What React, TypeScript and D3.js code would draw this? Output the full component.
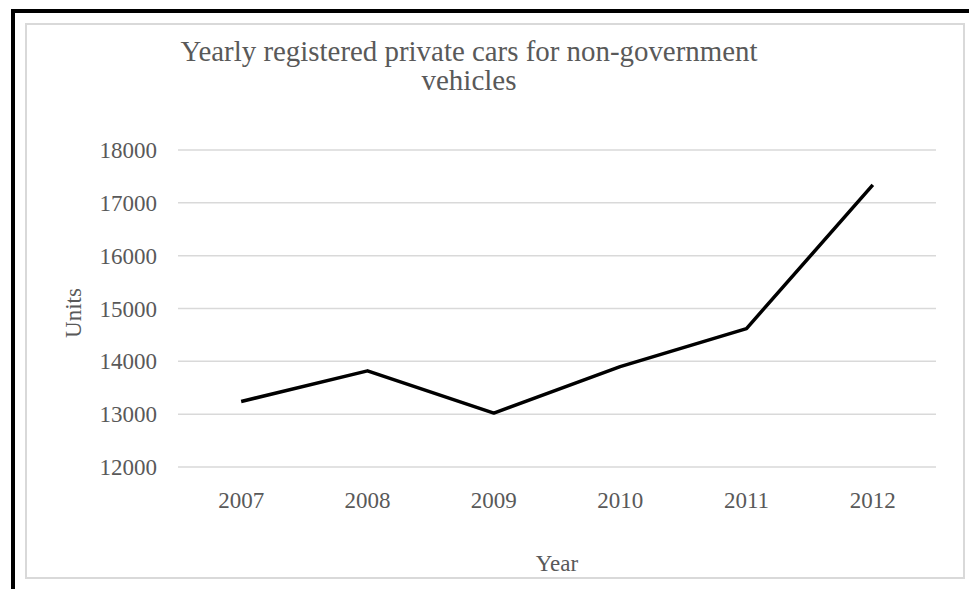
import React from "react";
import * as d3 from "d3";

const years = ["2007", "2008", "2009", "2010", "2011", "2012"];
const units = [13240, 13820, 13020, 13900, 14620, 17340];
const yTicks = [12000, 13000, 14000, 15000, 16000, 17000, 18000];

const W = 969;
const H = 589;
const plot = { left: 178, right: 936, top: 150, bottom: 467 };
const font = "'Liberation Serif', 'Times New Roman', serif";
const textColor = "#595959";

export default function App() {
  const x = d3
    .scaleBand<string>()
    .domain(years)
    .range([plot.left, plot.right]);
  const y = d3
    .scaleLinear()
    .domain([12000, 18000])
    .range([plot.bottom, plot.top]);
  const line = d3
    .line<number>()
    .x((_, i) => (x(years[i]) as number) + x.bandwidth() / 2)
    .y((d) => y(d));

  return (
    <svg
      width={W}
      height={H}
      style={{ position: "absolute", left: 0, top: 0, background: "#fff" }}
      fontFamily={font}
    >
      <rect x={0} y={0} width={W} height={H} fill="#fff" />
      {/* black frame */}
      <line x1={11} y1={11} x2={W} y2={11} stroke="#000" strokeWidth={4} />
      <line x1={13} y1={9} x2={13} y2={H} stroke="#000" strokeWidth={4} />
      {/* chart area border */}
      <rect x={26} y={24} width={938} height={554} fill="none" stroke="#d9d9d9" strokeWidth={2} />

      {/* title */}
      <text x={469} y={61} textAnchor="middle" fontSize={29} fill={textColor} textLength={577} lengthAdjust="spacingAndGlyphs">
        Yearly registered  private cars for non-government
      </text>
      <text x={469} y={90} textAnchor="middle" fontSize={29} fill={textColor}>
        vehicles
      </text>

      {/* gridlines & y ticks */}
      {yTicks.map((t) => (
        <g key={t}>
          <line x1={plot.left} x2={plot.right} y1={y(t)} y2={y(t)} stroke="#d9d9d9" strokeWidth={1.5} />
          <text x={157} y={y(t)} dy="0.35em" textAnchor="end" fontSize={23} fill={textColor}>
            {t}
          </text>
        </g>
      ))}

      {/* x labels */}
      {years.map((yr) => (
        <text
          key={yr}
          x={(x(yr) as number) + x.bandwidth() / 2}
          y={508}
          textAnchor="middle"
          fontSize={23}
          fill={textColor}
        >
          {yr}
        </text>
      ))}

      {/* axis titles */}
      <text x={557} y={571} textAnchor="middle" fontSize={23} fill={textColor}>
        Year
      </text>
      <text
        transform={`translate(81, 313) rotate(-90)`}
        textAnchor="middle"
        fontSize={23}
        fill={textColor}
      >
        Units
      </text>

      {/* series line */}
      <path d={line(units) || ""} fill="none" stroke="#000" strokeWidth={3.5} strokeLinejoin="round" />
    </svg>
  );
}
